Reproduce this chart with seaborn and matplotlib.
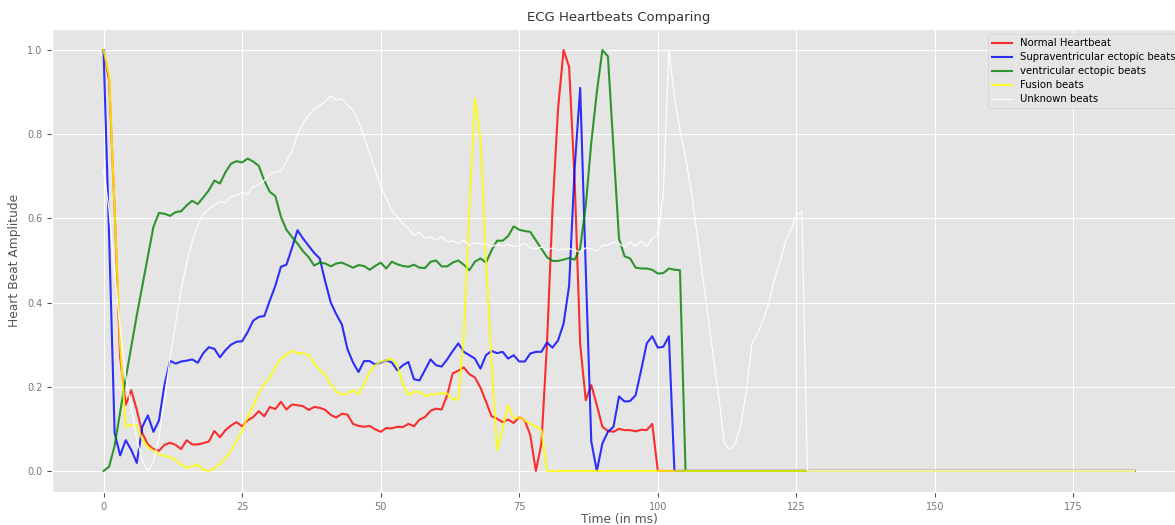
import numpy as np
import pandas as pd
import seaborn as sns
import matplotlib
matplotlib.use("Agg")
import matplotlib.pyplot as plt

# ── Data (one sample per ms, zero padded to 187) ──────────────────────────────
n_samples = 187

beat_labels = ["Normal Heartbeat", "Supraventricular ectopic beats",
               "ventricular ectopic beats", "Fusion beats", "Unknown beats"]
beat_colors = ["red", "blue", "green", "yellow", "white"]

normal = [1.0, 0.93, 0.62, 0.27, 0.157, 0.192, 0.145, 0.09, 0.063, 0.052,
          0.048, 0.062, 0.067, 0.062, 0.052, 0.073, 0.063, 0.063, 0.066, 0.07,
          0.095, 0.08, 0.097, 0.108, 0.116, 0.106, 0.12, 0.128, 0.142, 0.13,
          0.152, 0.147, 0.164, 0.146, 0.158, 0.156, 0.154, 0.145, 0.152, 0.15,
          0.145, 0.133, 0.127, 0.136, 0.134, 0.112, 0.107, 0.105, 0.107, 0.099,
          0.093, 0.102, 0.101, 0.105, 0.104, 0.112, 0.106, 0.122, 0.128, 0.143,
          0.148, 0.146, 0.18, 0.232, 0.238, 0.246, 0.23, 0.222, 0.198, 0.165,
          0.13, 0.124, 0.116, 0.122, 0.114, 0.128, 0.12, 0.085, 0.0, 0.065,
          0.3, 0.62, 0.86, 1.0, 0.96, 0.69, 0.3, 0.168, 0.204, 0.156,
          0.105, 0.095, 0.093, 0.1, 0.097, 0.097, 0.094, 0.098, 0.097, 0.112,
          0.0]

supraventricular = [1.0, 0.56, 0.09, 0.037, 0.073, 0.05, 0.019, 0.105, 0.132, 0.093,
                    0.12, 0.205, 0.262, 0.255, 0.26, 0.262, 0.265, 0.257, 0.28, 0.294,
                    0.29, 0.27, 0.287, 0.3, 0.307, 0.308, 0.33, 0.357, 0.366, 0.368,
                    0.405, 0.44, 0.485, 0.49, 0.53, 0.572, 0.552, 0.535, 0.518, 0.505,
                    0.45, 0.4, 0.372, 0.348, 0.29, 0.258, 0.235, 0.261, 0.261, 0.253,
                    0.257, 0.263, 0.258, 0.239, 0.251, 0.259, 0.218, 0.215, 0.24, 0.265,
                    0.251, 0.248, 0.265, 0.285, 0.303, 0.283, 0.275, 0.267, 0.243, 0.275,
                    0.285, 0.28, 0.283, 0.267, 0.275, 0.26, 0.26, 0.279, 0.283, 0.283,
                    0.305, 0.293, 0.31, 0.35, 0.44, 0.72, 0.91, 0.48, 0.07, 0.0,
                    0.065, 0.093, 0.105, 0.177, 0.165, 0.166, 0.18, 0.24, 0.303, 0.32,
                    0.293, 0.295, 0.32, 0.0]

ventricular = [0.0, 0.01, 0.06, 0.14, 0.22, 0.295, 0.37, 0.44, 0.51, 0.58,
               0.613, 0.611, 0.606, 0.615, 0.617, 0.631, 0.642, 0.634, 0.65, 0.667,
               0.69, 0.683, 0.71, 0.73, 0.736, 0.733, 0.742, 0.735, 0.725, 0.69,
               0.663, 0.653, 0.604, 0.573, 0.556, 0.54, 0.522, 0.508, 0.488, 0.495,
               0.493, 0.486, 0.493, 0.495, 0.489, 0.483, 0.489, 0.487, 0.478, 0.487,
               0.495, 0.481, 0.497, 0.491, 0.487, 0.485, 0.49, 0.483, 0.482, 0.497,
               0.5, 0.486, 0.486, 0.495, 0.5, 0.49, 0.477, 0.497, 0.505, 0.495,
               0.524, 0.547, 0.547, 0.558, 0.581, 0.573, 0.57, 0.568, 0.548, 0.528,
               0.508, 0.499, 0.499, 0.502, 0.506, 0.502, 0.53, 0.63, 0.78, 0.9,
               1.0, 0.985, 0.77, 0.552, 0.51, 0.505, 0.483, 0.481, 0.481, 0.478,
               0.469, 0.47, 0.481, 0.478, 0.477, 0.0]

fusion = [1.0, 0.94, 0.62, 0.3, 0.105, 0.11, 0.108, 0.075, 0.057, 0.048,
          0.04, 0.035, 0.034, 0.025, 0.015, 0.008, 0.01, 0.016, 0.003, 0.0,
          0.006, 0.017, 0.03, 0.048, 0.07, 0.097, 0.128, 0.155, 0.185, 0.207,
          0.223, 0.247, 0.267, 0.277, 0.285, 0.28, 0.279, 0.276, 0.256, 0.24,
          0.228, 0.207, 0.188, 0.181, 0.184, 0.192, 0.182, 0.207, 0.235, 0.251,
          0.259, 0.263, 0.266, 0.251, 0.207, 0.18, 0.188, 0.188, 0.178, 0.182,
          0.182, 0.185, 0.184, 0.17, 0.17, 0.32, 0.62, 0.885, 0.79, 0.5,
          0.26, 0.05, 0.1, 0.156, 0.124, 0.128, 0.12, 0.112, 0.105, 0.097,
          0.0]

unknown = [0.715, 0.62, 0.47, 0.34, 0.225, 0.15, 0.075, 0.025, 0.0, 0.022,
           0.08, 0.17, 0.27, 0.35, 0.43, 0.495, 0.545, 0.585, 0.61, 0.622,
           0.632, 0.64, 0.638, 0.652, 0.655, 0.662, 0.658, 0.675, 0.68, 0.69,
           0.705, 0.71, 0.712, 0.735, 0.76, 0.8, 0.825, 0.845, 0.86, 0.868,
           0.878, 0.891, 0.881, 0.885, 0.869, 0.857, 0.83, 0.795, 0.755, 0.715,
           0.675, 0.648, 0.619, 0.604, 0.588, 0.576, 0.56, 0.568, 0.552, 0.556,
           0.548, 0.556, 0.544, 0.547, 0.54, 0.548, 0.536, 0.542, 0.54, 0.54,
           0.533, 0.538, 0.534, 0.538, 0.533, 0.536, 0.54, 0.53, 0.528, 0.532,
           0.524, 0.53, 0.525, 0.527, 0.528, 0.525, 0.52, 0.53, 0.527, 0.522,
           0.536, 0.536, 0.544, 0.54, 0.532, 0.544, 0.534, 0.546, 0.534, 0.552,
           0.562, 0.66, 1.0, 0.89, 0.81, 0.746, 0.667, 0.572, 0.469, 0.374,
           0.271, 0.176, 0.065, 0.051, 0.065, 0.112, 0.192, 0.303, 0.326, 0.358,
           0.398, 0.453, 0.493, 0.544, 0.572, 0.608, 0.616, 0.0]

series = [normal, supraventricular, ventricular, fusion, unknown]

# ── Plot ───────────────────────────────────────────────────────────────────────
plt.style.use("ggplot")
fig = plt.figure(figsize=(11.75, 5.25), dpi=100)
# the reference is a cropped screenshot: the axes run past the right edge
ax = fig.add_axes([52 / 1175, 33 / 525, 1134 / 1175, 463 / 525])

for vals, lab, col in zip(series, beat_labels, beat_colors):
    amp = np.array(vals + [0.0] * (n_samples - len(vals)))
    df = pd.DataFrame({"time": np.arange(n_samples), "amplitude": amp})
    sns.lineplot(data=df, x="time", y="amplitude", color=col, label=lab,
                 linewidth=0.9 if col == "white" else 1.5,
                 alpha=0.95 if col == "white" else 0.8,
                 estimator=None, sort=False, ax=ax)

ax.set_xlim(-9.3, 195.3)
ax.set_ylim(-0.05, 1.05)
ax.set_xticks([0, 25, 50, 75, 100, 125, 150, 175])
ax.set_yticks([0.0, 0.2, 0.4, 0.6, 0.8, 1.0])
ax.tick_params(labelsize=7, labelcolor="#777777")

ax.set_title("ECG Heartbeats Comparing", fontsize=9.5, color="#333333")
ax.set_xlabel("Time (in ms)", fontsize=8.8, labelpad=1)
ax.set_ylabel("Heart Beat Amplitude", fontsize=8.8)

ax.legend(loc="upper left", bbox_to_anchor=(988 / 1175, 1 - 34 / 525),
          bbox_transform=fig.transFigure, fontsize=7.3,
          borderaxespad=0, labelspacing=0.4)

fig.savefig("out.png", dpi=100)
